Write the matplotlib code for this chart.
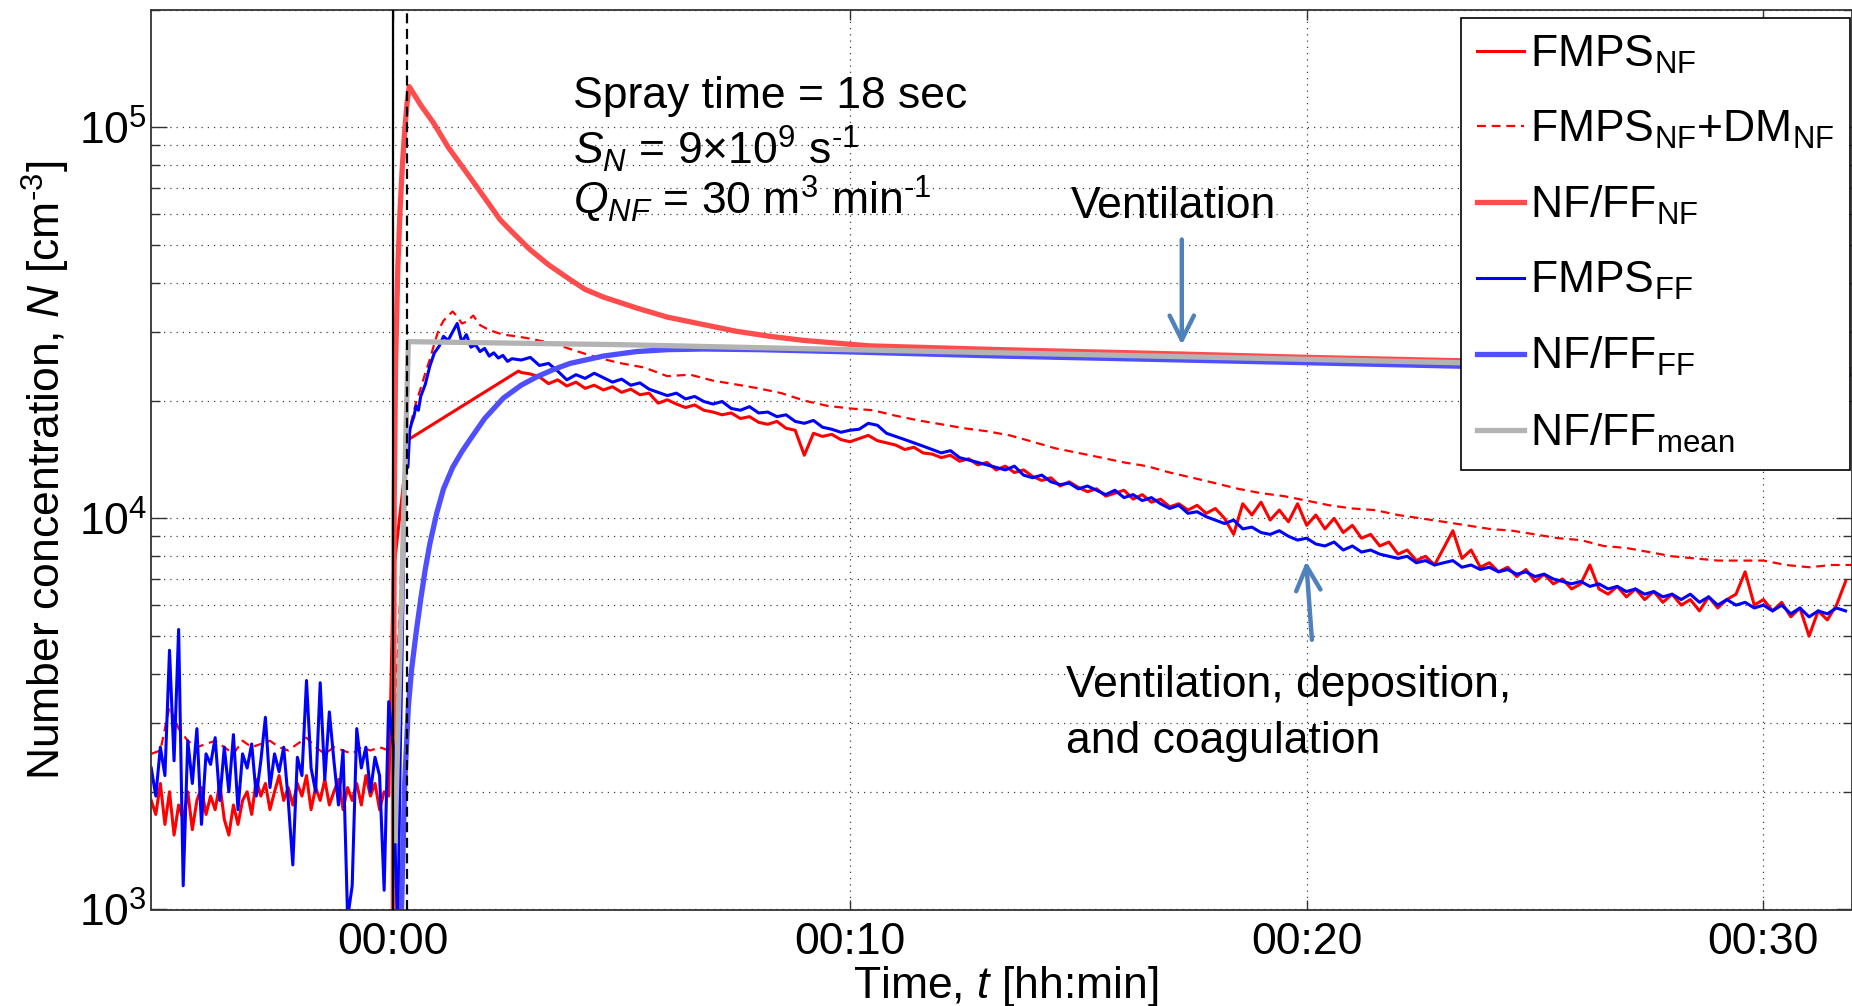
import numpy as np
import matplotlib
matplotlib.use("Agg")
import matplotlib.pyplot as plt
from matplotlib.ticker import LogLocator, NullFormatter, FixedLocator

plt.rcParams['font.family'] = ['Liberation Sans', 'DejaVu Sans']
plt.rcParams['mathtext.fontset'] = 'custom'
plt.rcParams['mathtext.rm'] = 'Liberation Sans'
plt.rcParams['mathtext.it'] = 'Liberation Sans:italic'
plt.rcParams['mathtext.bf'] = 'Liberation Sans:bold'

# ---------------- data (time in minutes, concentration in cm^-3) ----------------
# baseline (before spray), sampled every 0.1 min starting at -5.3 min
ff_base = [2300, 1950, 2600, 2200, 4600, 2400, 5200, 1150, 2700, 2100,
           2900, 1650, 2500, 2350, 2750, 1900, 2600, 2000, 2800, 1800,
           2500, 2300, 2650, 1950, 2400, 3100, 2050, 2500, 2250, 2600,
           1900, 1300, 2450, 2200, 3850, 2300, 2000, 3800, 2150, 3200,
           2400, 1850, 2550, 950, 1150, 2900, 2300, 2600, 2000, 2450,
           2200, 1120, 3400]
nf_base = [1900, 1750, 2100, 1650, 2000, 1550, 1850, 1700, 2000, 1600,
           1900, 2050, 1750, 1950, 1800, 2100, 1700, 1550, 1850, 1650,
           1900, 2000, 1750, 2150, 1950, 2100, 1800, 2000, 2200, 1900,
           2050, 1850, 2100, 1950, 2200, 1800, 2050, 1900, 2150, 1850,
           2000, 2150, 1800, 2050, 1900, 2100, 1850, 2200, 1950, 2100,
           1800, 2000, 1950]
# baseline of FMPS_NF+DM_NF, every 0.2 min starting at -5.3 min
dm_base = [2500, 2550, 3300, 2900, 2700, 2600, 2650, 2700, 2600, 2500,
           2700, 2600, 2650, 2700, 2600, 2550, 2650, 2750, 2600, 2500,
           2600, 2550, 2500, 2600, 2550, 2600, 2550]

# FMPS_FF during/after spray (irregular times)
ff_early_t = [0.0, 0.05, 0.1, 0.15, 0.2, 0.24, 0.28, 0.32, 0.36, 0.4, 0.45,
              0.5, 0.55, 0.6, 0.7, 0.8, 0.9, 1.0, 1.1, 1.2, 1.3, 1.4, 1.5,
              1.6, 1.7, 1.8, 1.9, 2.0, 2.1, 2.2, 2.3, 2.4, 2.5, 2.6]
ff_early_v = [2600, 1300, 900, 2400, 5200, 9500, 17500, 13500, 16800, 17500,
              18200, 19400, 18900, 20500, 22000, 24500, 26500, 27500, 29200,
              28500, 30000, 31500, 28200, 29500, 27400, 27800, 26700, 27200,
              26000, 26500, 25700, 26100, 25200, 25600]
# FMPS_NF during spray (data gap between 0.33 and 2.74 min)
nf_early_t = [0.0, 0.33, 2.74]
nf_early_v = [7200, 15900, 23800]

# decay phase, sampled every 0.2 min starting at 2.8 min
ff_decay = [25400, 25800, 24600, 24900, 23800, 22600, 23300, 22800, 23500, 22900,
            22300, 22700, 21900, 22200, 21400, 21000, 20600, 20900, 20200, 20500,
            19900, 19600, 19900, 19100, 18900, 19300, 18600, 18700, 18200, 18400,
            17700, 17500, 17800, 17100, 16900, 16600, 16800, 16900, 17500, 17300,
            16500, 16200, 15900, 15600, 15300, 15000, 14700, 14900, 14300, 14100,
            13900, 13700, 13500, 13300, 13600, 12900, 12700, 12900, 12400, 12200,
            12300, 11900, 12100, 11800, 11500, 11800, 11300, 11500, 11100, 11300,
            10900, 10600, 10800, 10300, 10400, 10100, 9900, 9700, 9900, 9400,
            9500, 9200, 9100, 9300, 9000, 8800, 8900, 8600, 8500, 8700,
            8300, 8500, 8200, 8300, 8100, 8000, 7900, 8000, 7700, 7800,
            7600, 7700, 7800, 7500, 7600, 7400, 7500, 7300, 7400, 7200,
            7300, 7100, 7200, 7000, 6900, 6800, 6900, 6700, 6800, 6600,
            6700, 6500, 6600, 6400, 6500, 6300, 6400, 6200, 6400, 6100,
            6300, 6000, 6200, 6000, 6100, 5900, 6000, 5800, 6000, 5700,
            5900, 5600, 5800, 5700, 5900, 5800]
nf_decay = [23600, 23400, 23000, 22100, 22600, 21800, 22300, 21500, 21900, 21300,
            21700, 21000, 21400, 20700, 20900, 19700, 20100, 19600, 19200, 19500,
            18900, 18700, 18400, 18600, 18000, 18200, 17600, 17400, 17700, 17000,
            16800, 14500, 16500, 16200, 16400, 15900, 15700, 16000, 16300, 15800,
            15600, 15400, 15000, 15200, 14700, 14600, 14300, 14500, 14000, 14200,
            13700, 13900, 13300, 13600, 13100, 13300, 12800, 12500, 12700, 12100,
            12400, 12000, 11700, 11900, 11400, 11600, 11800, 11200, 11500, 11000,
            11200, 10700, 10900, 10500, 10800, 10300, 10600, 10000, 9100, 10900,
            10200, 11000, 9900, 10500, 9800, 10900, 9600, 10200, 9400, 10000,
            9200, 9600, 8900, 9100, 8500, 8700, 8100, 8300, 7800, 8000,
            7600, 8400, 9300, 7900, 8300, 7500, 7700, 7300, 7500, 7100,
            7400, 6900, 7200, 6800, 7000, 6600, 6800, 7600, 6600, 6400,
            6700, 6300, 6600, 6200, 6500, 6100, 6400, 6000, 6200, 5800,
            6300, 5900, 6200, 6400, 7300, 6000, 6200, 5800, 6100, 5600,
            5900, 5000, 5800, 5500, 6000, 6900]
# FMPS_NF + DM_NF after spray (irregular times)
dm_t = [0.0, 0.1, 0.2, 0.3, 0.4, 0.5, 0.6, 0.7, 0.8, 0.9, 1.0, 1.1, 1.2, 1.3,
        1.4, 1.5, 1.6, 1.75, 1.9, 2.1, 2.4, 2.7,
        3.0, 3.5, 4.0, 4.5, 5.0, 5.5, 6.0, 6.5, 7.0, 7.5, 8.0, 8.5, 9.0, 9.5,
        10.0, 10.5, 11.0, 11.5, 12.0, 12.5, 13.0, 13.5, 14.0, 14.5, 15.0, 15.5,
        16.0, 16.5, 17.0, 17.5, 18.0, 18.5, 19.0, 19.5, 20.0, 20.5, 21.0, 21.5,
        22.0, 22.5, 23.0, 23.5, 24.0, 24.5, 25.0, 25.5, 26.0, 26.5, 27.0, 27.5,
        28.0, 28.5, 29.0, 29.5, 30.0, 30.5, 31.0, 31.5, 32.0]
dm_v = [2700, 4500, 9000, 14500, 17800, 19800, 21500, 23500, 25500, 28000,
        30500, 32000, 33000, 33800, 32800, 31500, 31800, 33000, 31200, 30300,
        29500, 29200,
        28800, 28000, 26800, 25700, 24900, 24300, 23100, 23300, 22500, 22000,
        21500, 20900, 20000, 19400, 19100, 18900, 18300, 17800, 17400, 17000,
        16700, 16300, 15700, 15100, 14700, 14300, 13900, 13600, 13100, 12700,
        12300, 11900, 11600, 11400, 11100, 10800, 10600, 10500, 10200, 10000,
        9800, 9600, 9400, 9300, 9100, 8900, 8800, 8500, 8400, 8200,
        8000, 7900, 7800, 7800, 7800, 7600, 7500, 7600, 7600]

# NF/FF model, near field
nfm_t = [0.0, 0.02, 0.05, 0.1, 0.15, 0.2, 0.25, 0.3, 0.35, 0.6, 0.88, 1.2, 1.61,
         2.0, 2.34, 2.6, 2.99, 3.4, 3.87, 4.2, 4.6, 5.33, 6.0, 6.79, 7.5, 8.25,
         9.0, 10.44, 13.3, 17.3, 20.0, 23.3, 32.0]
nfm_v = [900, 11000, 25000, 44000, 62000, 80000, 98000, 115000, 127000, 114000,
         102600, 89000, 76400, 66000, 58000, 54000, 48700, 44500, 40800, 38500,
         36800, 34500, 32700, 31300, 30100, 29200, 28500, 27600, 27000, 26300,
         25800, 25300, 24000]
# NF/FF model, far field
ffm_t = [0.15, 0.18, 0.25, 0.33, 0.4, 0.5, 0.6, 0.7, 0.8, 0.95, 1.1, 1.3, 1.5,
         1.68, 2.0, 2.41, 2.8, 3.14, 3.5, 3.87, 4.6, 5.33, 6.0, 6.79, 8.0, 9.71,
         13.3, 17.3, 20.0, 23.3, 32.0]
ffm_v = [700, 1000, 2100, 3300, 4100, 5100, 6200, 7400, 8600, 10300, 11900,
         13500, 14800, 15900, 18000, 20300, 21900, 23000, 24000, 24900, 26000,
         26700, 27000, 27100, 27000, 26700, 26000, 25400, 25000, 24500, 23400]
# NF/FF model, mean
mean_t = [0.04, 0.33, 5.0, 10.0, 13.3, 17.3, 20.0, 23.3, 32.0]
mean_v = [1500, 28300, 27800, 27000, 26500, 25900, 25500, 25000, 23800]

spray_end = 0.3  # 18 s
x_ticks = [0, 10, 20, 30]
x_ticklabels = ['00:00', '00:10', '00:20', '00:30']

legend_labels = ['FMPS$_{\\rm NF}$', 'FMPS$_{\\rm NF}$+DM$_{\\rm NF}$',
                 'NF/FF$_{\\rm NF}$', 'FMPS$_{\\rm FF}$', 'NF/FF$_{\\rm FF}$',
                 'NF/FF$_{\\rm mean}$']

# ---------------- assemble series ----------------
t_base = -5.3 + 0.1 * np.arange(len(ff_base))
t_dm_base = -5.3 + 0.2 * np.arange(len(dm_base))
t_decay = 2.8 + 0.2 * np.arange(len(ff_decay))
t_decay_nf = 2.8 + 0.2 * np.arange(len(nf_decay))

ff_t = np.concatenate([t_base, ff_early_t, t_decay])
ff_v = np.concatenate([ff_base, ff_early_v, ff_decay])
nf_t = np.concatenate([t_base[:len(nf_base)], nf_early_t, t_decay_nf])
nf_v = np.concatenate([nf_base, nf_early_v, nf_decay])
dmx = np.concatenate([t_dm_base, dm_t])
dmy = np.concatenate([dm_base, dm_v])

# ---------------- figure ----------------
W, H = 1852, 1006
fig = plt.figure(figsize=(W / 100, H / 100), dpi=100)
ax = fig.add_axes([151 / W, (H - 909.5) / H, 1701 / W, 900 / H])

FS = 32
RED = '#FF0000'
RED_M = '#FF4D4D'
BLUE = '#0000FF'
BLUE_M = '#4F4FFF'
GRAY = '#B3B3B3'

l1, = ax.plot(nf_t, nf_v, color=RED, lw=2.2)
l2, = ax.plot(dmx, dmy, color=RED, lw=1.6, ls=(0, (4, 2.6)))
l3, = ax.plot(nfm_t, nfm_v, color=RED_M, lw=3.8)
l4, = ax.plot(ff_t, ff_v, color=BLUE, lw=2.2)
l5, = ax.plot(ffm_t, ffm_v, color=BLUE_M, lw=3.8)
l6, = ax.plot(mean_t, mean_v, color=GRAY, lw=3.8)

ax.axvline(0, color='black', lw=1.6, zorder=5)
ax.axvline(spray_end, color='black', lw=1.6, ls=(0, (4.5, 2.5)), zorder=5)

ax.set_yscale('log')
ax.set_xlim(-5.305, 31.94)
ax.set_ylim(1e3, 2e5)

ax.xaxis.set_major_locator(FixedLocator(x_ticks))
ax.set_xticklabels(x_ticklabels)
ax.yaxis.set_major_locator(LogLocator(base=10, numticks=10))
ax.yaxis.set_minor_locator(LogLocator(base=10, subs=np.arange(2, 10), numticks=20))
ax.yaxis.set_minor_formatter(NullFormatter())

ax.tick_params(axis='both', which='both', direction='in', top=True, right=True,
               colors='#333333', labelcolor='black', labelsize=FS)
ax.tick_params(axis='x', which='major', length=7, width=1.0, pad=9)
ax.tick_params(axis='y', which='major', length=11.5, width=1.0, pad=3)
ax.tick_params(axis='y', which='minor', length=6.5, width=1.0)

for s in ax.spines.values():
    s.set_color('#333333')
    s.set_linewidth(1.3)

gstyle = dict(ls=(0, (1, 4)), color='#404040', lw=0.9)
ax.grid(True, which='major', axis='both', **gstyle)
ax.grid(True, which='minor', axis='y', **gstyle)
ax.set_axisbelow(True)

ax.set_xlabel('Time, $t$ [hh:min]', fontsize=FS)
ax.xaxis.set_label_coords((1006 - 151) / 1701, (909.5 - 964) / 900)
ax.set_ylabel('Number concentration, $N$ [cm$^{\\text{-3}}$]', fontsize=FS)
ax.yaxis.set_label_coords((72 - 151) / 1701, (909.5 - 470) / 900)

# annotations
ax.text(3.94, 1.121e5, 'Spray time = 18 sec', fontsize=FS, va='baseline', ha='left')
ax.text(3.94, 8.04e4, '$S_N$ = 9×10$^9$ s$^{\\text{-1}}$', fontsize=FS, va='baseline', ha='left')
ax.text(3.94, 5.96e4, '$Q_{NF}$ = 30 m$^3$ min$^{\\text{-1}}$', fontsize=FS, va='baseline', ha='left')

ax.text(14.84, 5.846e4, 'Ventilation', fontsize=FS, va='baseline', ha='left')
ax.text(14.72, 3503, 'Ventilation, deposition,', fontsize=FS, va='baseline', ha='left')
ax.text(14.72, 2510, 'and coagulation', fontsize=FS, va='baseline', ha='left')

ARROW = '#4F81BD'
aprops = dict(arrowstyle='->,head_length=0.7,head_width=0.35', lw=3.2, color=ARROW,
              mutation_scale=25, shrinkA=0, shrinkB=0)
ax.annotate('', xy=(17.265, 2.777e4), xytext=(17.265, 5.164e4), arrowprops=aprops)
ax.annotate('', xy=(19.989, 7773), xytext=(20.114, 4894), arrowprops=aprops)

leg = ax.legend([l1, l2, l3, l4, l5, l6], legend_labels, fontsize=FS,
                loc='upper right', bbox_to_anchor=(0.9988, 0.9902),
                borderaxespad=0, handlelength=1.06, handletextpad=0.13,
                labelspacing=0.74, borderpad=0.35, fancybox=False,
                framealpha=1, edgecolor='black')
leg.get_frame().set_linewidth(1.2)
leg.set_zorder(10)

fig.savefig('out.png', dpi=100)
